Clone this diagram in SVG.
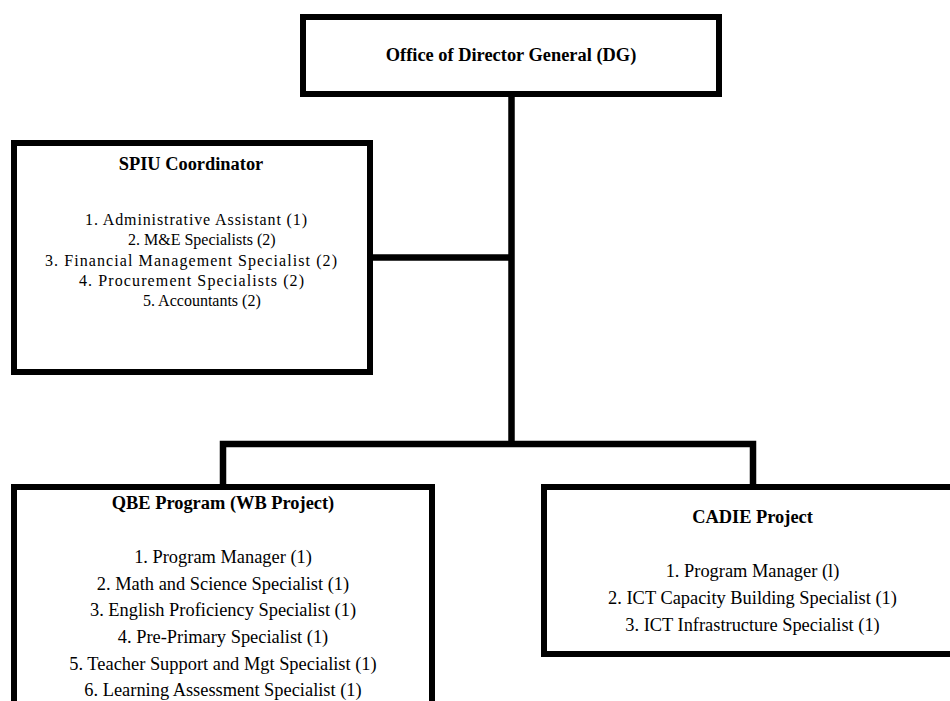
<svg xmlns="http://www.w3.org/2000/svg" width="950" height="701" viewBox="0 0 950 701">
<style>
.box{fill:#fff;stroke:#000;stroke-width:6}
.conn{fill:none;stroke:#000;stroke-width:6.5;stroke-linejoin:miter}
text{font-family:"Liberation Serif","Times New Roman",serif;fill:#000}
.t{font-weight:bold;font-size:18.4px;text-anchor:middle}
.s{font-size:16px}
.i{font-size:18.4px;text-anchor:middle}
</style>
<rect width="950" height="701" fill="#fff"/>
<g id="connectors">
<path class="conn" d="M511.5 97 V444"/>
<path class="conn" d="M373 257.5 H511.5"/>
<path class="conn" d="M223 485 V444 H753 V485"/>
</g>
<g id="dg">
<rect class="box" x="303" y="17" width="416" height="77"/>
<text class="t" x="511" y="61">Office of Director General (DG)</text>
</g>
<g id="spiu">
<rect class="box" x="14" y="143" width="356" height="229"/>
<text class="t" x="191" y="170">SPIU Coordinator</text>
<text class="s" x="85" y="225" textLength="222" lengthAdjust="spacing">1. Administrative Assistant (1)</text>
<text class="s" x="128" y="245">2. M&amp;E Specialists (2)</text>
<text class="s" x="45" y="266" textLength="292" lengthAdjust="spacing">3. Financial Management Specialist (2)</text>
<text class="s" x="79" y="286" textLength="225" lengthAdjust="spacing">4. Procurement Specialists (2)</text>
<text class="s" x="143" y="306">5. Accountants (2)</text>
</g>
<g id="qbe">
<rect class="box" x="14" y="487" width="418" height="300"/>
<text class="t" x="223" y="509">QBE Program (WB Project)</text>
<text class="i" x="223" y="563">1. Program Manager (1)</text>
<text class="i" x="223" y="589.5">2. Math and Science Specialist (1)</text>
<text class="i" x="223" y="616">3. English Proficiency Specialist (1)</text>
<text class="i" x="223" y="643">4. Pre-Primary Specialist (1)</text>
<text class="i" x="223" y="670">5. Teacher Support and Mgt Specialist (1)</text>
<text class="i" x="223" y="696">6. Learning Assessment Specialist (1)</text>
</g>
<g id="cadie">
<rect class="box" x="544" y="487" width="417" height="167"/>
<text class="t" x="752.5" y="523">CADIE Project</text>
<text class="i" x="752.5" y="577">1. Program Manager (l)</text>
<text class="i" x="752.5" y="604">2. ICT Capacity Building Specialist (1)</text>
<text class="i" x="752.5" y="631">3. ICT Infrastructure Specialist (1)</text>
</g>
</svg>
